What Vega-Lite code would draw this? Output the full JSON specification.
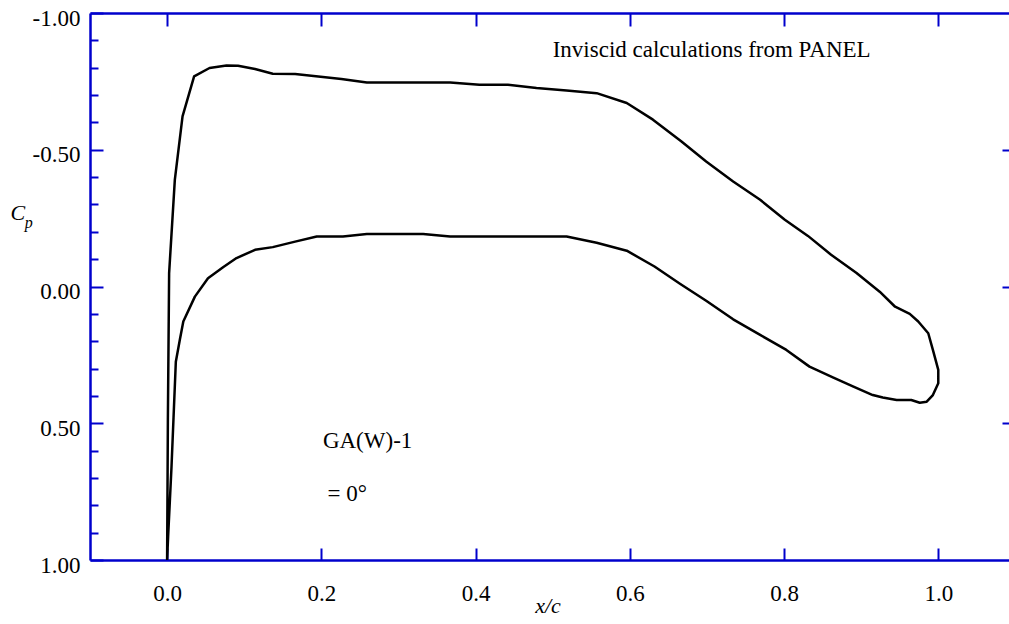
{
  "$schema": "https://vega.github.io/schema/vega-lite/v6.json",
  "width": 919,
  "height": 547,
  "autosize": {"type": "none"},
  "padding": {"left": 90, "top": 13, "right": 0, "bottom": 64},
  "background": "white",
  "config": {
    "view": {"stroke": null},
    "font": "'Liberation Serif', 'Times New Roman', serif",
    "axis": {
      "domainColor": "#0000cc",
      "tickColor": "#0000cc",
      "domainWidth": 2.5,
      "tickWidth": 2,
      "labelFont": "'Liberation Serif', 'Times New Roman', serif",
      "labelFontSize": 23,
      "labelColor": "black",
      "grid": false,
      "title": null
    }
  },
  "resolve": {"axis": {"x": "independent", "y": "independent"}},
  "layer": [
    {
      "data": {"values": [
        {"i": 0, "x": 0.0000, "cp": 1.000},
        {"i": 1, "x": 0.0010, "cp": 0.480},
        {"i": 2, "x": 0.0026, "cp": -0.049},
        {"i": 3, "x": 0.0100, "cp": -0.390},
        {"i": 4, "x": 0.0200, "cp": -0.622},
        {"i": 5, "x": 0.0350, "cp": -0.768},
        {"i": 6, "x": 0.0550, "cp": -0.799},
        {"i": 7, "x": 0.0770, "cp": -0.808},
        {"i": 8, "x": 0.0920, "cp": -0.807},
        {"i": 9, "x": 0.1140, "cp": -0.795},
        {"i": 10, "x": 0.1370, "cp": -0.778},
        {"i": 11, "x": 0.1660, "cp": -0.777},
        {"i": 12, "x": 0.2260, "cp": -0.759},
        {"i": 13, "x": 0.2590, "cp": -0.746},
        {"i": 14, "x": 0.3320, "cp": -0.746},
        {"i": 15, "x": 0.3670, "cp": -0.746},
        {"i": 16, "x": 0.4050, "cp": -0.738},
        {"i": 17, "x": 0.4420, "cp": -0.738},
        {"i": 18, "x": 0.4790, "cp": -0.726},
        {"i": 19, "x": 0.5180, "cp": -0.717},
        {"i": 20, "x": 0.5570, "cp": -0.707},
        {"i": 21, "x": 0.5960, "cp": -0.671},
        {"i": 22, "x": 0.6300, "cp": -0.610},
        {"i": 23, "x": 0.6670, "cp": -0.530},
        {"i": 24, "x": 0.6990, "cp": -0.457},
        {"i": 25, "x": 0.7340, "cp": -0.384},
        {"i": 26, "x": 0.7690, "cp": -0.317},
        {"i": 27, "x": 0.8010, "cp": -0.244},
        {"i": 28, "x": 0.8310, "cp": -0.185},
        {"i": 29, "x": 0.8610, "cp": -0.116},
        {"i": 30, "x": 0.8940, "cp": -0.049},
        {"i": 31, "x": 0.9240, "cp": 0.019},
        {"i": 32, "x": 0.9440, "cp": 0.074},
        {"i": 33, "x": 0.9630, "cp": 0.100},
        {"i": 34, "x": 0.9740, "cp": 0.128},
        {"i": 35, "x": 0.9870, "cp": 0.171},
        {"i": 36, "x": 0.9930, "cp": 0.232},
        {"i": 37, "x": 1.0000, "cp": 0.305},
        {"i": 38, "x": 1.0000, "cp": 0.354},
        {"i": 39, "x": 0.9930, "cp": 0.397},
        {"i": 40, "x": 0.9850, "cp": 0.421},
        {"i": 41, "x": 0.9760, "cp": 0.425},
        {"i": 42, "x": 0.9650, "cp": 0.415},
        {"i": 43, "x": 0.9460, "cp": 0.415},
        {"i": 44, "x": 0.9280, "cp": 0.406},
        {"i": 45, "x": 0.9150, "cp": 0.397},
        {"i": 46, "x": 0.8900, "cp": 0.366},
        {"i": 47, "x": 0.8640, "cp": 0.333},
        {"i": 48, "x": 0.8330, "cp": 0.293},
        {"i": 49, "x": 0.8030, "cp": 0.232},
        {"i": 50, "x": 0.7690, "cp": 0.177},
        {"i": 51, "x": 0.7340, "cp": 0.120},
        {"i": 52, "x": 0.6990, "cp": 0.052},
        {"i": 53, "x": 0.6650, "cp": -0.010},
        {"i": 54, "x": 0.6320, "cp": -0.073},
        {"i": 55, "x": 0.5960, "cp": -0.131},
        {"i": 56, "x": 0.5570, "cp": -0.160},
        {"i": 57, "x": 0.5180, "cp": -0.183},
        {"i": 58, "x": 0.4790, "cp": -0.183},
        {"i": 59, "x": 0.4050, "cp": -0.183},
        {"i": 60, "x": 0.3670, "cp": -0.183},
        {"i": 61, "x": 0.3320, "cp": -0.192},
        {"i": 62, "x": 0.2590, "cp": -0.192},
        {"i": 63, "x": 0.2280, "cp": -0.183},
        {"i": 64, "x": 0.1940, "cp": -0.183},
        {"i": 65, "x": 0.1660, "cp": -0.164},
        {"i": 66, "x": 0.1370, "cp": -0.144},
        {"i": 67, "x": 0.1140, "cp": -0.134},
        {"i": 68, "x": 0.0900, "cp": -0.104},
        {"i": 69, "x": 0.0730, "cp": -0.071},
        {"i": 70, "x": 0.0530, "cp": -0.030},
        {"i": 71, "x": 0.0360, "cp": 0.037},
        {"i": 72, "x": 0.0210, "cp": 0.128},
        {"i": 73, "x": 0.0165, "cp": 0.195},
        {"i": 74, "x": 0.0113, "cp": 0.275},
        {"i": 75, "x": 0.0057, "cp": 0.659},
        {"i": 76, "x": 0.0013, "cp": 0.915},
        {"i": 77, "x": 0.0000, "cp": 1.000}
      ]},
      "mark": {"type": "line", "color": "black", "strokeWidth": 2.5, "strokeJoin": "round"},
      "encoding": {
        "x": {
          "field": "x", "type": "quantitative",
          "scale": {"domain": [-0.1, 1.0917], "nice": false, "zero": false},
          "axis": {"orient": "bottom", "values": [0, 0.2, 0.4, 0.6, 0.8, 1.0], "format": ".1f", "tickSize": -12, "labelPadding": 34, "labelBaseline": "top"}
        },
        "y": {
          "field": "cp", "type": "quantitative",
          "scale": {"domain": [-1, 1], "reverse": true, "nice": false, "zero": false},
          "axis": {"orient": "left", "values": [-1, -0.5, 0, 0.5, 1], "labelExpr": "replace(format(datum.value, '.2f'), '\u2212', '-')", "tickSize": -13, "labelPadding": 23, "labelOffset": 5}
        },
        "order": {"field": "i", "type": "quantitative"}
      }
    },
    {
      "data": {"values": [{"x": 0.5, "cp": -0.866, "t": "Inviscid calculations from PANEL"}]},
      "mark": {"type": "text", "align": "left", "baseline": "middle", "font": "'Liberation Serif', 'Times New Roman', serif", "fontSize": 23, "color": "black"},
      "encoding": {
        "x": {"field": "x", "type": "quantitative", "axis": {"orient": "top", "values": [0, 0.2, 0.4, 0.6, 0.8, 1.0], "tickSize": -13, "labels": false}},
        "y": {"field": "cp", "type": "quantitative", "axis": {"orient": "right", "values": [-0.5, 0, 0.5], "tickSize": -7, "labels": false, "domain": false}},
        "text": {"field": "t"}
      }
    },
    {
      "data": {"values": [
        {"x": 0.202, "cp": 0.564, "t": "GA(W)-1"},
        {"x": 0.208, "cp": 0.757, "t": "= 0°"}
      ]},
      "mark": {"type": "text", "align": "left", "baseline": "middle", "font": "'Liberation Serif', 'Times New Roman', serif", "fontSize": 23, "color": "black"},
      "encoding": {
        "x": {"field": "x", "type": "quantitative", "axis": null},
        "y": {"field": "cp", "type": "quantitative", "axis": {"orient": "left", "values": [-0.9, -0.8, -0.7, -0.6, -0.4, -0.3, -0.2, -0.1, 0.1, 0.2, 0.3, 0.4, 0.6, 0.7, 0.8, 0.9], "tickSize": -8, "labels": false, "domain": false}},
        "text": {"field": "t"}
      }
    },
    {
      "data": {"values": [
        {"x": 0.494, "cp": 1.169, "t": "x/c"},
        {"x": -0.1936, "cp": -0.267, "t": "C"}
      ]},
      "mark": {"type": "text", "align": "center", "baseline": "middle", "font": "'Liberation Serif', 'Times New Roman', serif", "fontSize": 22, "fontStyle": "italic", "color": "black"},
      "encoding": {
        "x": {"field": "x", "type": "quantitative", "axis": null},
        "y": {"field": "cp", "type": "quantitative", "axis": null},
        "text": {"field": "t"}
      }
    },
    {
      "data": {"values": [{"x": -0.1793, "cp": -0.2126, "t": "p"}]},
      "mark": {"type": "text", "align": "center", "baseline": "alphabetic", "font": "'Liberation Serif', 'Times New Roman', serif", "fontSize": 16, "fontStyle": "italic", "color": "black"},
      "encoding": {
        "x": {"field": "x", "type": "quantitative", "axis": null},
        "y": {"field": "cp", "type": "quantitative", "axis": null},
        "text": {"field": "t"}
      }
    }
  ]
}
